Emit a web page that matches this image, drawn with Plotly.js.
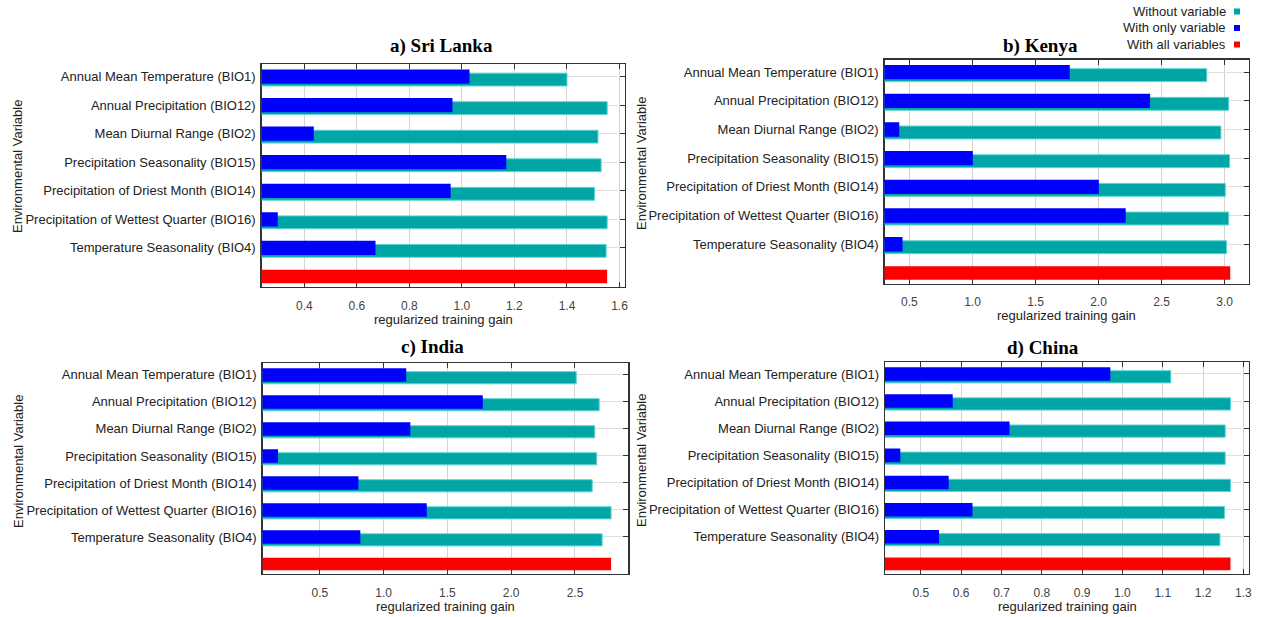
<!DOCTYPE html>
<html>
<head>
<meta charset="utf-8">
<script src="https://cdn.plot.ly/plotly-3.0.1.min.js"></script>
<style>html,body{margin:0;padding:0;background:#fff;}#chart{width:1269px;height:617px;}</style>
</head>
<body>
<div id="chart"></div>
<script>
// ---- Data ----
const variables = [
  'Annual Mean Temperature (BIO1)',
  'Annual Precipitation (BIO12)',
  'Mean Diurnal Range (BIO2)',
  'Precipitation Seasonality (BIO15)',
  'Precipitation of Driest Month (BIO14)',
  'Precipitation of Wettest Quarter (BIO16)',
  'Temperature Seasonality (BIO4)'
];
const allLabel = 'With all variables';
const seriesNames = ['Without variable', 'With only variable', 'With all variables'];
const panelTitles = ['a) Sri Lanka', 'b) Kenya', 'c) India', 'd) China'];

const sriLankaWithout = [1.400, 1.553, 1.518, 1.530, 1.505, 1.553, 1.549];
const sriLankaOnly    = [1.029, 0.964, 0.436, 1.169, 0.957, 0.299, 0.671];
const sriLankaAll     = [1.553];

const kenyaWithout = [2.859, 3.033, 2.971, 3.040, 3.006, 3.033, 3.016];
const kenyaOnly    = [1.772, 2.409, 0.419, 1.003, 2.003, 2.216, 0.445];
const kenyaAll     = [3.045];

const indiaWithout = [2.510, 2.690, 2.655, 2.670, 2.635, 2.783, 2.713];
const indiaOnly    = [1.177, 1.777, 1.209, 0.172, 0.802, 1.338, 0.817];
const indiaAll     = [2.783];

const chinaWithout = [1.120, 1.268, 1.255, 1.255, 1.268, 1.253, 1.242];
const chinaOnly    = [0.970, 0.579, 0.720, 0.449, 0.569, 0.628, 0.545];
const chinaAll     = [1.268];

// ---- Styling ----
const W = 1269, H = 617;
const colWithout = '#00a6a6', colOnly = '#0000ff', colAll = '#ff0000';
const sans = 'Liberation Sans, Arial, sans-serif';
const serif = 'Liberation Serif, Times New Roman, serif';
const px = x => x / W;
const py = y => 1 - y / H;

const panels = [
  {without: sriLankaWithout, only: sriLankaOnly, all: sriLankaAll, box: [261.5, 624.5, 64, 287], xr: [0.237, 1.619], dt: 0.2, title: [441, 46], ytitle: [18, 167]},
  {without: kenyaWithout, only: kenyaOnly, all: kenyaAll, box: [884.5, 1248.5, 59.5, 283.5], xr: [0.302, 3.19], dt: 0.5, title: [1040, 46], ytitle: [641, 163]},
  {without: indiaWithout, only: indiaOnly, all: indiaAll, box: [262.5, 628.3, 363, 574], xr: [0.05, 2.918], dt: 0.5, title: [432, 347], ytitle: [18, 462]},
  {without: chinaWithout, only: chinaOnly, all: chinaAll, box: [885, 1249, 362, 574], xr: [0.411, 1.314], dt: 0.1, title: [1043, 348], ytitle: [641, 460]}
];

const data = [];
const layout = {
  width: W, height: H,
  margin: {l: 0, r: 0, t: 0, b: 0},
  paper_bgcolor: '#fff', plot_bgcolor: '#fff',
  showlegend: false, barmode: 'overlay',
  annotations: [], shapes: []
};

const cats = variables.concat([allLabel]);

panels.forEach((p, i) => {
  const n = i + 1;
  const xa = 'x' + (n === 1 ? '' : n), ya = 'y' + (n === 1 ? '' : n);
  const xk = 'xaxis' + (n === 1 ? '' : n), yk = 'yaxis' + (n === 1 ? '' : n);
  data.push({
    type: 'bar', orientation: 'h', name: seriesNames[0],
    x: p.without, y: variables, xaxis: xa, yaxis: ya,
    width: 0.45, offset: -0.12,
    marker: {color: colWithout, line: {color: '#5fd4d4', width: 1}},
    hoverinfo: 'x+y'
  });
  data.push({
    type: 'bar', orientation: 'h', name: seriesNames[1],
    x: p.only, y: variables, xaxis: xa, yaxis: ya,
    width: 0.5, offset: -0.25,
    marker: {color: colOnly, line: {width: 0}},
    hoverinfo: 'x+y'
  });
  data.push({
    type: 'bar', orientation: 'h', name: seriesNames[2],
    x: p.all, y: [allLabel], xaxis: xa, yaxis: ya,
    width: 0.47, offset: -0.235,
    marker: {color: colAll, line: {width: 0}},
    hoverinfo: 'x'
  });
  const [l, r, t, b] = p.box;
  layout[xk] = {
    domain: [px(l), px(r)], anchor: ya, range: p.xr,
    dtick: p.dt, tick0: 0, tickformat: '.1f',
    ticks: 'inside', ticklen: 5, tickcolor: '#333', tickwidth: 1,
    mirror: 'ticks', showline: true, linecolor: '#333', linewidth: 1.2,
    showgrid: true, gridcolor: '#d4d4d4', gridwidth: 1, zeroline: false,
    layer: 'below traces', ticklabelstandoff: 7,
    tickfont: {family: sans, size: 12, color: '#444'}, fixedrange: true
  };
  layout[yk] = {
    domain: [py(b), py(t)], anchor: xa, type: 'category',
    categoryorder: 'array', categoryarray: cats,
    range: [7.37, -0.44],
    tickmode: 'array', tickvals: variables, ticktext: variables,
    ticks: 'inside', ticklen: 5, tickcolor: '#333', tickwidth: 1,
    mirror: 'ticks', showline: true, linecolor: '#333', linewidth: 1.2,
    showgrid: true, gridcolor: '#e0e0e0', gridwidth: 1, zeroline: false,
    layer: 'below traces', ticklabelstandoff: 2,
    tickfont: {family: sans, size: 13, color: '#222'}, fixedrange: true
  };
  // panel title
  layout.annotations.push({
    text: '<b>' + panelTitles[i] + '</b>', xref: 'paper', yref: 'paper',
    x: px(p.title[0]), y: py(p.title[1]), xanchor: 'center', yanchor: 'middle',
    showarrow: false, font: {family: serif, size: 19, color: '#000'}
  });
  // x axis title
  layout.annotations.push({
    text: 'regularized training gain', xref: 'paper', yref: 'paper',
    x: px((l + r) / 2), y: py(b + 32), xanchor: 'center', yanchor: 'middle',
    showarrow: false, font: {family: sans, size: 13, color: '#222'}
  });
  // y axis title
  layout.annotations.push({
    text: 'Environmental Variable', xref: 'paper', yref: 'paper',
    x: px(p.ytitle[0]), y: py(p.ytitle[1]), xanchor: 'center', yanchor: 'middle',
    textangle: -90, showarrow: false, font: {family: sans, size: 13, color: '#222'}
  });
});

// legend (text with key square on the right)
const legendColors = [colWithout, colOnly, colAll];
const legendY = [11.5, 28, 44.5];
seriesNames.forEach((s, i) => {
  layout.annotations.push({
    text: s, xref: 'paper', yref: 'paper', x: px(1228), y: py(legendY[i]),
    xanchor: 'right', yanchor: 'middle', showarrow: false,
    font: {family: sans, size: 13, color: '#222'}
  });
  layout.shapes.push({
    type: 'rect', xref: 'paper', yref: 'paper',
    x0: px(1234), x1: px(1240), y0: py(legendY[i] + 3), y1: py(legendY[i] - 3),
    fillcolor: legendColors[i], line: {width: 0}
  });
});

Plotly.newPlot('chart', data, layout, {displayModeBar: false, staticPlot: true});
</script>
</body>
</html>
